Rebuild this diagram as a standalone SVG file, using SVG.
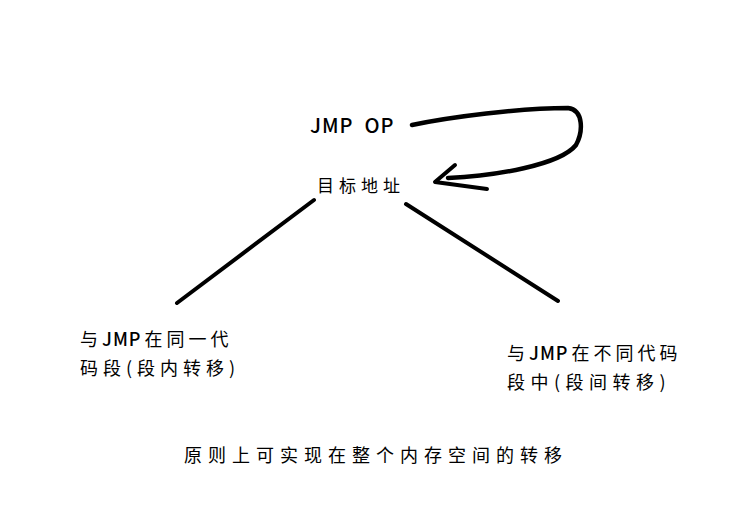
<svg xmlns="http://www.w3.org/2000/svg" width="751" height="522" viewBox="0 0 751 522">
<style>
.t{font-family:"Noto Sans CJK SC","Noto Sans",sans-serif;fill:#000}
.l{font-weight:500;letter-spacing:1px}
.c{fill:none;stroke:#000;stroke-linecap:round;stroke-linejoin:round}
</style>
<rect width="751" height="522" fill="#fff"/>
<g id="connectors">
<path class="c" stroke-width="4" d="M177,303 L314,200"/>
<path class="c" stroke-width="4" d="M406,204 L558,301"/>
<path class="c" stroke-width="4.5" d="M412,125 C450,117 520,108 568,108 C584,110 583,132 576,145 C560,165 495,176 448,178"/>
<path class="c" stroke-width="4" d="M455,165 L435,182 L487,189"/>
</g>
<g id="jmp"><text class="t" x="310" y="133" font-size="20" font-weight="500" letter-spacing="1" xml:space="preserve">JMP  OP</text></g>
<g id="target"><text class="t" x="317" y="192" font-size="17" letter-spacing="5">目标地址</text></g>
<g id="left"><text class="t" x="80" y="346" font-size="18" letter-spacing="4">与<tspan class="l">JMP</tspan><tspan dx="3">在同一代</tspan></text><text class="t" x="80" y="375" font-size="18" letter-spacing="5">码段(段内转移)</text></g>
<g id="right"><text class="t" x="507" y="360" font-size="18" letter-spacing="4">与<tspan class="l">JMP</tspan><tspan dx="3">在不同代码</tspan></text><text class="t" x="507" y="389" font-size="18" letter-spacing="5.5">段中(段间转移)</text></g>
<g id="bottom"><text class="t" x="184" y="462" font-size="18" letter-spacing="6">原则上可实现在整个内存空间的转移</text></g>
</svg>
